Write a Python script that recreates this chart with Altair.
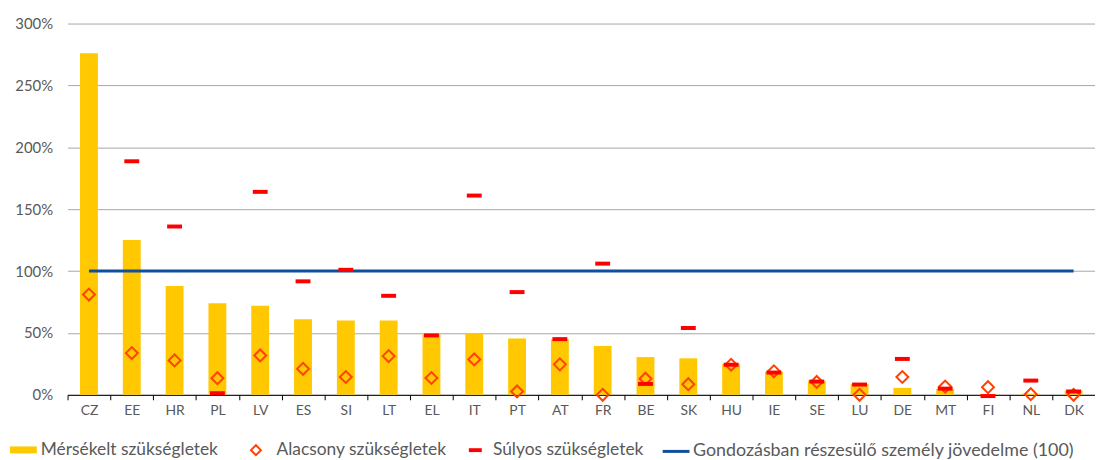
import altair as alt
import pandas as pd

countries = ["CZ", "EE", "HR", "PL", "LV", "ES", "SI", "LT", "EL", "IT", "PT", "AT",
             "FR", "BE", "SK", "HU", "IE", "SE", "LU", "DE", "MT", "FI", "NL", "DK"]
moderate = [276, 125, 88, 74, 72, 61, 60, 60, 50, 50, 45.5, 45,
            39.5, 30.5, 29.5, 25, 18.7, 11.5, 8.8, 5.6, 4.8, 0.5, 1, 3.5]
low = [81, 33.7, 27.8, 13.4, 31.8, 21, 14.4, 31.3, 13.6, 28.6, 2.7, 24.6,
       0, 13, 8.6, 24.3, 19, 10.4, 0, 14.4, 6.7, 6.2, 0.5, 0]
severe = [None, 188.7, 136, 1.3, 164, 91.7, 101, 80, 48, 161, 83, 45,
          106, 8.8, 54, 24.3, 18, 10.7, 8.3, 29, 5, -1, 11.5, 2.7]
income = [100, 100, 100, 100, 100, 100, 100, 100, 100, 100, 100, 100,
          100, 100, 100, 100, 100, 100, 100, 100, 100, 100, 100, 100]
y_ticks = [0, 50, 100, 150, 200, 250, 300]

series_names = ["Mérsékelt szükségletek", "Alacsony szükségletek",
                "Súlyos szükségletek", "Gondozásban részesülő személy jövedelme (100)"]

df = pd.DataFrame({"country": countries, "moderate": moderate, "low": low,
                   "severe": severe, "income": income})

FONT = "Lato"
TXT = "#595959"

x_enc = alt.X("country:N", sort=countries, title=None,
              scale=alt.Scale(paddingInner=0, paddingOuter=0),
              axis=alt.Axis(labelAngle=0, labelFont=FONT, labelFontSize=14, labelColor=TXT,
                            domainColor="#000000", domainWidth=1, tickColor="#000000",
                            tickSize=5, tickBand="extent", labelPadding=4, grid=False))

y_scale = alt.Scale(domain=[0, 300], nice=False, zero=False)
y_axis = alt.Axis(values=y_ticks, labelExpr="datum.value + '%'", grid=True,
                  gridColor="#A6A6A6", gridWidth=1, domain=False, ticks=False, tickSize=0,
                  labelPadding=15, labelFont=FONT, labelFontSize=15, labelColor=TXT,
                  title=None)


def legend(x, y, size=17.5, **kw):
    return alt.Legend(title=None, orient="none", legendX=x, legendY=y, padding=0,
                      labelFont=FONT, labelFontSize=size, labelColor=TXT, labelLimit=0, **kw)


base = alt.Chart(df)

bars = base.mark_bar(size=18).transform_calculate(s="'%s'" % series_names[0]).encode(
    x=x_enc,
    y=alt.Y("moderate:Q", scale=y_scale, axis=y_axis),
    color=alt.Color("s:N", scale=alt.Scale(range=["#FFC800"]),
                    legend=legend(-58, 416, symbolType="M-1,-0.26H1V0.26H-1Z",
                                  symbolSize=729, labelOffset=4, symbolStrokeWidth=0)),
)

line = base.mark_line(strokeWidth=3).transform_calculate(s="'%s'" % series_names[3]).encode(
    x=x_enc,
    y=alt.Y("income:Q", scale=y_scale, axis=y_axis),
    color=alt.Color("s:N", scale=alt.Scale(range=["#104E9E"]),
                    legend=legend(598, 416, size=18, symbolType="stroke", symbolSize=729,
                                  symbolStrokeWidth=3, labelOffset=2)),
)

diamonds = base.mark_point(shape="diamond", filled=False, size=144, strokeWidth=2,
                           opacity=1).transform_calculate(s="'%s'" % series_names[1]).encode(
    x=x_enc,
    y=alt.Y("low:Q", scale=y_scale, axis=y_axis),
    color=alt.Color("s:N", scale=alt.Scale(range=["#FF4200"]),
                    legend=legend(181, 421, symbolType="diamond", symbolSize=100,
                                  symbolStrokeWidth=2, symbolFillColor="transparent",
                                  labelOffset=12)),
)

dashes = base.mark_tick(size=15, thickness=4, opacity=1).transform_calculate(
    s="'%s'" % series_names[2]).encode(
    x=x_enc,
    y=alt.Y("severe:Q", scale=y_scale, axis=y_axis),
    color=alt.Color("s:N", scale=alt.Scale(range=["#FF0000"]),
                    legend=legend(402, 421, symbolType="M-1,-0.3H1V0.3H-1Z", symbolSize=169,
                                  symbolFillColor="#FF0000", symbolStrokeWidth=0,
                                  labelOffset=9)),
)

chart = alt.layer(bars, line, diamonds, dashes).resolve_scale(color="independent").properties(
    width=1035, height=374,
    autosize=alt.AutoSizeParams(type="none"),
    padding={"left": 60, "top": 14, "right": 0, "bottom": 64},
).configure_view(stroke=None)

chart.save("out.html", embed_options={"renderer": "svg", "actions": False})
